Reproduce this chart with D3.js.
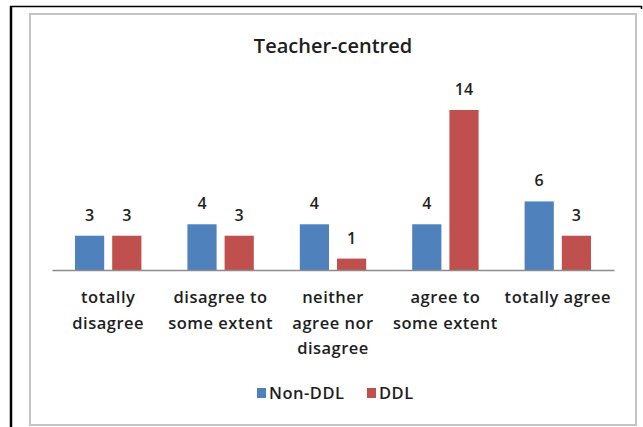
<!DOCTYPE html>
<html>
<head>
<meta charset="utf-8">
<script src="https://cdn.jsdelivr.net/npm/d3@7"></script>
<style>
  html, body { margin: 0; padding: 0; background: #fff; }
  svg { display: block; }
  text { font-family: "Open Sans", "Noto Sans", sans-serif; fill: #1e1e1e; font-weight: 600; }
</style>
</head>
<body>
<svg id="chart" width="643" height="427"></svg>
<script>
// Response counts per agreement level
const categories = [
  "totally disagree",
  "disagree to some extent",
  "neither agree nor disagree",
  "agree to some extent",
  "totally agree"
];
// Wrapped tick labels, one entry per line
const tickLabels = [
  ["totally", "disagree"],
  ["disagree to", "some extent"],
  ["neither", "agree nor", "disagree"],
  ["agree to", "some extent"],
  ["totally agree"]
];
const seriesNames = ["Non-DDL", "DDL"];
const nonDDL = [3, 4, 4, 4, 6];
const ddl = [3, 3, 1, 14, 3];
const chartTitle = "Teacher-centred";

const colors = { "Non-DDL": "#4F81BD", "DDL": "#C0504D" };
const seriesValues = { "Non-DDL": nonDDL, "DDL": ddl };

const svg = d3.select("#chart");

// Outer document frame
svg.append("line").attr("x1", 10).attr("y1", 6.5).attr("x2", 642).attr("y2", 6.5)
  .attr("stroke", "#000").attr("stroke-width", 1.5);
svg.append("line").attr("x1", 11).attr("y1", 6).attr("x2", 11).attr("y2", 427)
  .attr("stroke", "#000").attr("stroke-width", 2.5);
svg.append("line").attr("x1", 641.5).attr("y1", 6).attr("x2", 641.5).attr("y2", 9)
  .attr("stroke", "#000").attr("stroke-width", 1.5);

// Chart area border
svg.append("rect").attr("x", 30).attr("y", 14).attr("width", 606).attr("height", 411)
  .attr("fill", "#fff").attr("stroke", "#c4c4c4").attr("stroke-width", 2);

// Title
svg.append("text").attr("x", 333).attr("y", 53).attr("text-anchor", "middle")
  .style("font-size", "20px").text(chartTitle);

// Scales
const x0 = d3.scaleBand().domain(categories).range([52, 614]).padding(0);
const x1 = d3.scaleBand().domain(seriesNames)
  .range([23, x0.bandwidth() - 23]).paddingInner(0.215).paddingOuter(0);
const y = d3.scaleLinear().domain([0, 14]).range([270, 110]);

const rows = categories.map((c, i) => ({
  category: c,
  values: seriesNames.map(s => ({ series: s, value: seriesValues[s][i] }))
}));

const groups = svg.append("g").selectAll("g").data(rows).join("g")
  .attr("transform", d => `translate(${x0(d.category)},0)`);

groups.selectAll("rect").data(d => d.values).join("rect")
  .attr("x", d => x1(d.series))
  .attr("y", d => y(d.value))
  .attr("width", x1.bandwidth())
  .attr("height", d => y(0) - y(d.value))
  .attr("fill", d => colors[d.series]);

groups.selectAll("text.val").data(d => d.values).join("text")
  .attr("class", "val")
  .attr("x", d => x1(d.series) + x1.bandwidth() / 2)
  .attr("y", d => y(d.value) - 15)
  .attr("text-anchor", "middle")
  .style("font-size", "16px")
  .text(d => d.value);

// Category axis
const axis = svg.append("g").attr("transform", `translate(0,${y(0)})`)
  .call(d3.axisBottom(x0).tickSize(0).tickFormat(""));
axis.select(".domain").attr("stroke", "#8c8c8c").attr("stroke-width", 1.5);
axis.selectAll(".tick text").remove();
axis.selectAll(".tick").each(function(d, i) {
  const t = d3.select(this).append("text")
    .attr("text-anchor", "middle")
    .style("font-size", "16.5px")
    .style("letter-spacing", "0.5px");
  tickLabels[i].forEach((line, k) => {
    t.append("tspan").attr("x", 0).attr("y", 33 + k * 25.5).text(line);
  });
});

// Legend
const legend = svg.append("g");
const legendItems = [
  { name: "Non-DDL", x: 257 },
  { name: "DDL", x: 367 }
];
legendItems.forEach(item => {
  legend.append("rect").attr("x", item.x).attr("y", 388).attr("width", 9).attr("height", 10)
    .attr("fill", colors[item.name]);
  legend.append("text").attr("x", item.x + 12).attr("y", 399)
    .style("font-size", "16.5px").style("letter-spacing", "0.5px").text(item.name);
});
</script>
</body>
</html>
